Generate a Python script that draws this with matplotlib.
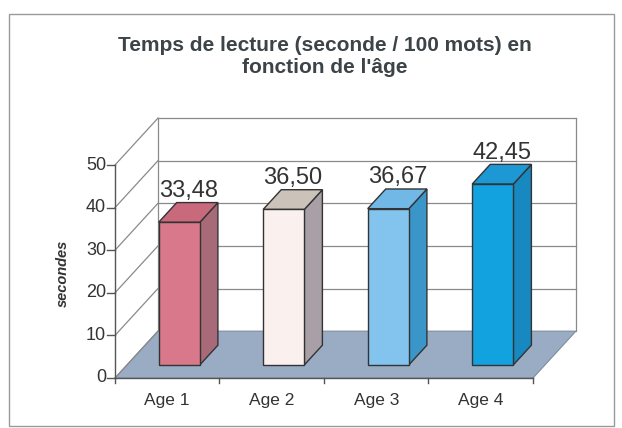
import numpy as np
import matplotlib
matplotlib.use('Agg')
import matplotlib.pyplot as plt
from matplotlib.patches import Polygon, Rectangle

plt.rcParams['font.family'] = ['Liberation Sans', 'DejaVu Sans']

categories = ['Age 1', 'Age 2', 'Age 3', 'Age 4']
values = [33.48, 36.50, 36.67, 42.45]
y_ticks = [0, 10, 20, 30, 40, 50]
title = "Temps de lecture (seconde / 100 mots) en\nfonction de l'âge"
y_label = 'secondes'

front_cols = ['#d8788a', '#faf0ee', '#82c4ee', '#12a2e0']
top_cols = ['#c96a7c', '#cbc2ba', '#72b8e6', '#1c98d4']
side_cols = ['#a86a78', '#a8a0a6', '#3a96c8', '#1888c0']

# fake 3d: depth d in [0, 1] shifts x and y
DX = 0.411
DY = 11.0
F0, F1 = 0.28, 0.70   # bar depth span
HW = 0.197            # bar half width


def P(x, v, d):
    return (x + d * DX, v + d * DY)


fig = plt.figure(figsize=(6.22, 4.28), dpi=100)
ax = fig.add_axes([0, 0, 1, 1])
# front plane: x 0..4 -> px 115..533, v 0..50 -> px 378..165
ax.set_xlim(-115 / 104.5, (622 - 115) / 104.5)
ax.set_ylim((378 - 428) / 4.26, 378 / 4.26)
ax.axis('off')

n = len(categories)
grid_c = '#8a8a8a'

# floor
floor = [P(0, 0, 0), P(n, 0, 0), P(n, 0, 1), P(0, 0, 1)]
ax.add_patch(Polygon(floor, closed=True, fc='#9aabc4', ec='#7f8c9c', lw=0.8, zorder=1))

# walls and gridlines
for t in y_ticks:
    a, b = P(0, t, 0), P(0, t, 1)
    ax.plot([a[0], b[0]], [a[1], b[1]], color=grid_c, lw=0.9, zorder=2)
    c = P(n, t, 1)
    if t > 0:
        ax.plot([b[0], c[0]], [b[1], c[1]], color=grid_c, lw=0.9, zorder=2)
for x0 in [0, n]:
    a, b = P(x0, 0, 1), P(x0, y_ticks[-1], 1)
    ax.plot([a[0], b[0]], [a[1], b[1]], color=grid_c, lw=0.9, zorder=2)

# front value axis
a, b = P(0, 0, 0), P(0, y_ticks[-1], 0)
ax.plot([a[0], b[0]], [a[1], b[1]], color='#555555', lw=1.0, zorder=3)
for t in y_ticks:
    ax.plot([-0.077, 0], [t, t], color='#555555', lw=1.0, zorder=3)
    ax.annotate(str(t), (0, t), xytext=(-6.5, 0), textcoords='offset points',
                ha='right', va='center', fontsize=13, color='#333333')

# category axis
ax.plot([0, n], [0, 0], color='#555555', lw=1.0, zorder=3)
for i in range(n + 1):
    ax.plot([i, i], [0, -1.2], color='#555555', lw=1.0, zorder=3)
for i, cat in enumerate(categories):
    ax.annotate(cat, (i + 0.5, 0), xytext=(0, -16), textcoords='offset points',
                ha='center', va='center', fontsize=12.5, color='#333333')

# bars
for i, v in enumerate(values):
    c = i + 0.5
    front = [P(c - HW, 0, F0), P(c + HW, 0, F0), P(c + HW, v, F0), P(c - HW, v, F0)]
    side = [P(c + HW, 0, F0), P(c + HW, 0, F1), P(c + HW, v, F1), P(c + HW, v, F0)]
    top = [P(c - HW, v, F0), P(c + HW, v, F0), P(c + HW, v, F1), P(c - HW, v, F1)]
    for poly, col in [(side, side_cols[i]), (top, top_cols[i]), (front, front_cols[i])]:
        ax.add_patch(Polygon(poly, closed=True, fc=col, ec='#333333', lw=1.0, zorder=4))
    ly = P(c, v, F1)[1]
    lx = P(c, v, (F0 + F1) / 2)[0]
    ax.annotate(f'{v:.2f}'.replace('.', ','), (lx, ly), xytext=(0, 8.5),
                textcoords='offset points', ha='center', va='center',
                fontsize=17, color='#333333', zorder=5)

fig.text(325 / 622, 1 - 57 / 428, title, ha='center', va='center', fontsize=15,
         fontweight='bold', color='#3c4448', linespacing=1.2)
fig.text(63 / 622, 1 - 273 / 428, y_label, ha='center', va='center', fontsize=10.5,
         fontweight='bold', fontstyle='italic', rotation=90, color='#333333')

# chart border
fig.patches.append(Rectangle((9 / 622, 1 - 426 / 428), 605 / 622, 412 / 428,
                             transform=fig.transFigure, fill=False,
                             ec='#9a9a9a', lw=1.0))

fig.savefig('out.png', dpi=100)
